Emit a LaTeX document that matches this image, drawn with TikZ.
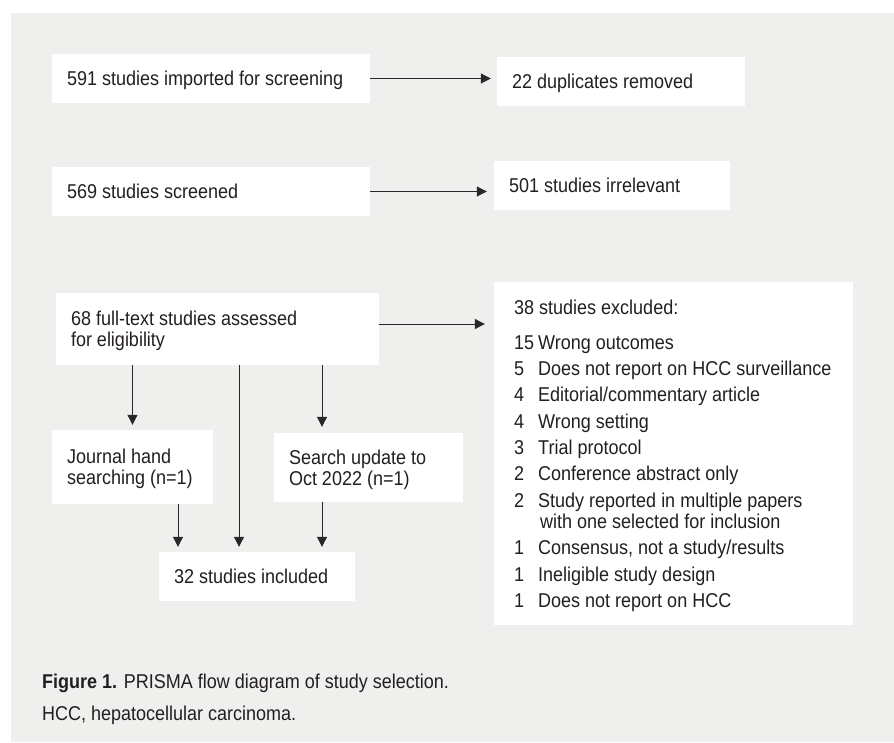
\documentclass[tikz,border=0pt]{standalone}
\usepackage{fontspec}
\setmainfont{Liberation Sans}[FakeStretch=0.9]
\usepackage{xcolor}
\usepackage{tikz}
\usetikzlibrary{arrows.meta, positioning, calc}
\definecolor{prpanel}{RGB}{239,239,237}
\definecolor{prtext}{RGB}{35,31,32}
\definecolor{prline}{RGB}{40,40,40}

\begin{document}
\begin{tikzpicture}[x=1pt,y=1pt,
    font=\fontsize{20}{21}\selectfont, text=prtext,
    box/.style={fill=white,inner xsep=15pt,inner ysep=0pt,align=left,text height=14pt,text depth=0pt,minimum height=49pt,
      execute at begin node={\spaceskip=0pt\xspaceskip=0pt}},
    tallbox/.style={box,text depth=21pt},
    item/.style={anchor=base west,inner sep=0pt},
    arr/.style={-{Triangle[length=10pt,width=10pt]},line width=1pt,draw=prline}]

\useasboundingbox (0,0) rectangle (894,-742);
\fill[prpanel] (11,-13) rectangle (894,-742);

\node[box,text width=288pt] (imp) at (211,-78.5) {591 studies imported for screening};
\node[box,text width=218pt] (dup) at (621,-81.5) {22 duplicates removed};
\node[box,text width=288pt] (scr) at (211,-191.5) {569 studies screened};
\node[box,text width=206pt] (irr) at (612,-185.5) {501 studies irrelevant};
\node[tallbox,text width=293pt,minimum height=72pt] (full) at (217.5,-329) {68 full-text studies assessed\\for eligibility};
\node[tallbox,text width=131pt,minimum height=74pt] (hand) at (132.5,-467) {Journal hand\\searching (n=1)};
\node[tallbox,text width=159pt,minimum height=69pt] (upd) at (368.5,-467.5) {Search update to\\Oct 2022 (n=1)};
\node[box,text width=166pt] (incl) at (257,-576.5) {32 studies included};
\node[fill=white,minimum width=359pt,minimum height=343pt,inner sep=0pt] (excl) at (673.5,-453.5) {};

\node[item] (exhead) at (514,-314) {38 studies excluded:};
\foreach \num/\txt/\yy [count=\i] in {15/Wrong outcomes/349, 5/Does not report on HCC surveillance/375,
    4/{Editorial/commentary article}/401, 4/Wrong setting/428, 3/Trial protocol/454,
    2/Conference abstract only/480, 2/Study reported in multiple papers/507,
    {}/{\hspace*{2pt}with one selected for inclusion}/528, 1/{Consensus, not a study/results}/554,
    1/Ineligible study design/581, 1/Does not report on HCC/607}{
  \node[item] (exnum\i) at (514,-\yy) {\num};
  \node[item] (extxt\i) at (538,-\yy) {\txt};
}

\draw[arr,shorten >=6pt] (imp.east) -- (imp.east -| dup.west);
\draw[arr,shorten >=7pt] (scr.east) -- (scr.east -| irr.west);
\draw[arr,shorten >=9pt] ([yshift=5pt]full.east) -- ([yshift=5pt]full.east -| excl.west);
\draw[arr,shorten >=5pt] (full.south -| hand.north) -- (hand.north);
\draw[arr,shorten >=5pt] ([xshift=21.5pt]full.south) -- ([xshift=21.5pt]full.south |- incl.north);
\draw[arr,shorten >=6pt] ([xshift=104.5pt]full.south) -- ([xshift=104.5pt]full.south |- upd.north);
\draw[arr,shorten >=5pt] ([xshift=45.5pt]hand.south) -- ([xshift=45.5pt]hand.south |- incl.north);
\draw[arr,shorten >=5pt] ([xshift=-46.5pt]upd.south) -- ([xshift=-46.5pt]upd.south |- incl.north);

\node[item] (cap) at (42,-688) {\textbf{Figure 1.} PRISMA flow diagram of study selection.};
\node[item] (abbr) at (42,-720) {HCC, hepatocellular carcinoma.};
\end{tikzpicture}
\end{document}
